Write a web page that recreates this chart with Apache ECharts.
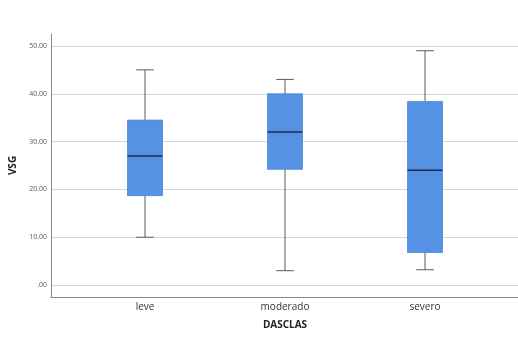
<!DOCTYPE html>
<html>
<head>
<meta charset="utf-8">
<script src="https://cdn.jsdelivr.net/npm/echarts@6/dist/echarts.min.js"></script>
<style>
  html, body { margin: 0; padding: 0; background: #fff; }
  #chart { width: 518px; height: 339px; }
</style>
</head>
<body>
<div id="chart"></div>
<script>
// VSG by DASCLAS group: five-number summaries per box
const categories = ['leve', 'moderado', 'severo'];
const lowWhisker = [10, 3, 3.2];
const q1 = [18.7, 24.2, 6.8];
const median = [27, 32, 24];
const q3 = [34.5, 40, 38.4];
const highWhisker = [45, 43, 49];
const yTicks = [0, 10, 20, 30, 40, 50];

const yMin = -2.5, yMax = 52.5;
const boxColor = '#5692e3';

const boxData = categories.map((c, i) => [i, lowWhisker[i], q1[i], median[i], q3[i], highWhisker[i]]);

function renderBox(params, api) {
  const x = api.value(0);
  const band = api.size([1, 0])[0];
  const boxW = band * 0.25;
  const capW = boxW * 0.5;
  const pLow = api.coord([x, api.value(1)]);
  const pQ1 = api.coord([x, api.value(2)]);
  const pMed = api.coord([x, api.value(3)]);
  const pQ3 = api.coord([x, api.value(4)]);
  const pHigh = api.coord([x, api.value(5)]);
  const cx = pMed[0];
  const whisker = { stroke: '#5a5a5a', lineWidth: 1 };
  return {
    type: 'group',
    children: [
      { type: 'line', shape: { x1: cx, y1: pQ3[1], x2: cx, y2: pHigh[1] }, style: whisker },
      { type: 'line', shape: { x1: cx, y1: pQ1[1], x2: cx, y2: pLow[1] }, style: whisker },
      { type: 'line', shape: { x1: cx - capW / 2, y1: pHigh[1], x2: cx + capW / 2, y2: pHigh[1] }, style: whisker },
      { type: 'line', shape: { x1: cx - capW / 2, y1: pLow[1], x2: cx + capW / 2, y2: pLow[1] }, style: whisker },
      { type: 'rect', shape: { x: cx - boxW / 2, y: pQ3[1], width: boxW, height: pQ1[1] - pQ3[1] },
        style: { fill: boxColor, stroke: '#4d88d8', lineWidth: 0.8 } },
      { type: 'line', shape: { x1: cx - boxW / 2, y1: pMed[1], x2: cx + boxW / 2, y2: pMed[1] },
        style: { stroke: '#1a2b50', lineWidth: 1.6 } }
    ]
  };
}

const chart = echarts.init(document.getElementById('chart'), null, { renderer: 'canvas' });
chart.setOption({
  backgroundColor: '#fff',
  animation: false,
  grid: [
    { left: 51, right: 0, top: 34, bottom: 42 },
    { left: 75, right: 23, top: 34, bottom: 42 }
  ],
  xAxis: [
    {
      gridIndex: 0, type: 'value', min: 0, max: 1,
      axisLine: { show: true, onZero: false, lineStyle: { color: '#8a8a8a', width: 1 } },
      axisTick: { show: false }, axisLabel: { show: false }, splitLine: { show: false }
    },
    {
      gridIndex: 1, type: 'category', data: categories, boundaryGap: true,
      axisLine: { show: false }, axisTick: { show: false },
      axisLabel: { color: '#333', fontSize: 10, fontFamily: 'Open Sans', margin: 5 },
      name: 'DASCLAS', nameLocation: 'middle', nameGap: 23,
      nameTextStyle: { color: '#222', fontSize: 10, fontWeight: 'bold', fontFamily: 'Open Sans' }
    }
  ],
  yAxis: [
    {
      gridIndex: 0, type: 'value', min: yMin, max: yMax,
      axisLine: { show: true, lineStyle: { color: '#8a8a8a', width: 1 } },
      axisTick: { show: false, customValues: yTicks },
      axisLabel: {
        customValues: yTicks, color: '#555', fontSize: 7, fontFamily: 'Open Sans', margin: 4,
        formatter: v => (v === 0 ? '.00' : v.toFixed(2))
      },
      splitLine: { show: true, lineStyle: { color: '#d6d6d6', width: 1 } },
      name: 'VSG', nameLocation: 'middle', nameGap: 30, nameRotate: 90,
      nameTextStyle: { color: '#222', fontSize: 10, fontWeight: 'bold', fontFamily: 'Open Sans' }
    },
    {
      gridIndex: 1, type: 'value', min: yMin, max: yMax, show: false
    }
  ],
  series: [
    {
      type: 'custom', xAxisIndex: 1, yAxisIndex: 1,
      renderItem: renderBox,
      encode: { x: 0, y: [1, 2, 3, 4, 5] },
      data: boxData
    }
  ]
});
</script>
</body>
</html>
